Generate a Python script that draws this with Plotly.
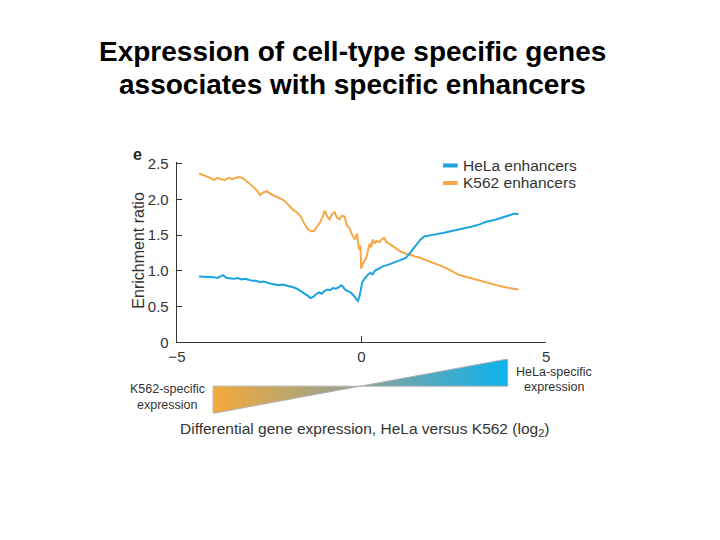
import plotly.graph_objects as go

# ---------------- data ----------------
k562_x = [-4.40, -4.30, -4.20, -4.10, -4.00, -3.90, -3.80, -3.70, -3.60, -3.50,
          -3.40, -3.30, -3.20, -3.10, -3.00, -2.90, -2.80, -2.75, -2.65, -2.55,
          -2.45, -2.35, -2.25, -2.15, -2.05, -1.95, -1.85, -1.75, -1.65, -1.55,
          -1.45, -1.35, -1.28, -1.20, -1.12, -1.05, -1.00, -0.93, -0.87, -0.80,
          -0.73, -0.67, -0.60, -0.53, -0.46, -0.40, -0.33, -0.25, -0.18, -0.12,
          -0.07, -0.03, -0.01, 0.03, 0.08, 0.13, 0.18, 0.22, 0.26, 0.30,
          0.35, 0.40, 0.48, 0.55, 0.62, 0.68, 0.75, 0.83, 0.90, 0.98,
          1.06, 1.15, 1.25, 1.35, 1.45, 1.55, 1.65, 1.75, 1.85, 2.00,
          2.20, 2.40, 2.60, 2.80, 3.00, 3.20, 3.40, 3.60, 3.80, 4.00,
          4.15, 4.25]
k562_y = [2.36, 2.34, 2.33, 2.30, 2.27, 2.30, 2.28, 2.27, 2.30, 2.28,
          2.30, 2.31, 2.29, 2.25, 2.21, 2.16, 2.10, 2.06, 2.10, 2.11,
          2.07, 2.05, 2.02, 2.00, 1.96, 1.90, 1.85, 1.82, 1.76, 1.66,
          1.58, 1.55, 1.56, 1.62, 1.68, 1.76, 1.84, 1.76, 1.72, 1.79,
          1.82, 1.75, 1.72, 1.77, 1.76, 1.64, 1.60, 1.50, 1.44, 1.52,
          1.30, 1.35, 1.03, 1.10, 1.15, 1.18, 1.30, 1.38, 1.33, 1.44,
          1.38, 1.42, 1.40, 1.44, 1.46, 1.40, 1.38, 1.35, 1.32, 1.29,
          1.27, 1.25, 1.23, 1.22, 1.20, 1.19, 1.17, 1.16, 1.14, 1.11,
          1.06, 1.01, 0.95, 0.92, 0.89, 0.86, 0.83, 0.80, 0.78, 0.76,
          0.75, 0.74]

hela_x = [-4.40, -4.30, -4.20, -4.10, -4.00, -3.90, -3.80, -3.75, -3.65, -3.55,
          -3.45, -3.35, -3.25, -3.15, -3.05, -2.95, -2.85, -2.75, -2.65, -2.55,
          -2.45, -2.35, -2.25, -2.15, -2.05, -1.95, -1.85, -1.75, -1.65, -1.55,
          -1.45, -1.38, -1.30, -1.22, -1.15, -1.08, -1.00, -0.92, -0.85, -0.78,
          -0.70, -0.62, -0.55, -0.50, -0.45, -0.38, -0.30, -0.22, -0.15, -0.10,
          -0.06, -0.02, 0.02, 0.07, 0.12, 0.18, 0.24, 0.30, 0.36, 0.44,
          0.52, 0.60, 0.70, 0.80, 0.90, 1.00, 1.10, 1.20, 1.30, 1.40,
          1.50, 1.60, 1.70, 1.85, 2.00, 2.20, 2.40, 2.60, 2.80, 3.00,
          3.20, 3.40, 3.60, 3.80, 4.00, 4.15, 4.25]
hela_y = [0.92, 0.92, 0.91, 0.92, 0.91, 0.90, 0.92, 0.94, 0.90, 0.89,
          0.89, 0.90, 0.88, 0.89, 0.87, 0.86, 0.86, 0.84, 0.85, 0.83,
          0.82, 0.81, 0.80, 0.81, 0.80, 0.78, 0.77, 0.75, 0.72, 0.69,
          0.65, 0.62, 0.64, 0.68, 0.70, 0.68, 0.72, 0.74, 0.73, 0.76,
          0.75, 0.77, 0.80, 0.78, 0.74, 0.72, 0.70, 0.66, 0.62, 0.58,
          0.63, 0.72, 0.84, 0.88, 0.92, 0.95, 0.97, 0.95, 1.00, 1.02,
          1.05, 1.07, 1.08, 1.10, 1.11, 1.13, 1.15, 1.18, 1.24, 1.31,
          1.38, 1.44, 1.48, 1.50, 1.51, 1.53, 1.55, 1.57, 1.60, 1.62,
          1.65, 1.69, 1.71, 1.74, 1.77, 1.80, 1.79]

y_ticks = [0, 0.5, 1.0, 1.5, 2.0, 2.5]
y_ticktext = ["0", "0.5", "1.0", "1.5", "2.0", "2.5"]
x_ticks = [-5, 0, 5]
x_ticktext = ["\u22125", "0", "5"]

# gradient bar (bow-tie) below the axis
bar_x = [-4.02, -4.02, 3.96, 3.96, -4.02]
bar_y = [0.5, 0.0, 1.0, 0.5, 0.5]

BLUE = "#1aa3de"
ORANGE = "#f4a845"
TXT = "#333333"
FONT = "Arial, Liberation Sans, sans-serif"

W, H = 720, 540
def px(v):
    return v / W
def py(v):
    return 1 - v / H

fig = go.Figure()

fig.add_trace(go.Scatter(x=k562_x, y=k562_y, mode="lines",
                         line=dict(color=ORANGE, width=2),
                         name="K562 enhancers", showlegend=False))
fig.add_trace(go.Scatter(x=hela_x, y=hela_y, mode="lines",
                         line=dict(color=BLUE, width=2),
                         name="HeLa enhancers", showlegend=False))

fig.add_trace(go.Scatter(x=bar_x, y=bar_y, xaxis="x2", yaxis="y2",
                         mode="lines", fill="toself",
                         line=dict(color="#b0b0b0", width=1),
                         fillgradient=dict(type="horizontal",
                                           colorscale=[[0, "#f3a93a"],
                                                       [0.5, "#8da39a"],
                                                       [1, "#0db2ec"]]),
                         showlegend=False, hoverinfo="skip"))

fig.update_layout(
    width=W, height=H, autosize=False,
    margin=dict(l=0, r=0, t=0, b=0),
    paper_bgcolor="white", plot_bgcolor="white",
    font=dict(family=FONT, color=TXT, size=15),
    xaxis=dict(domain=[px(171), px(547)], range=[-5, 5],
               tickvals=x_ticks, ticktext=x_ticktext,
               ticks="inside", ticklen=6, tickwidth=1.3, tickcolor=TXT,
               showline=True, linecolor=TXT, linewidth=1.4,
               showgrid=False, zeroline=False, anchor="y",
               tickfont=dict(size=15, color=TXT)),
    yaxis=dict(domain=[py(345), py(159)], range=[0, 2.527],
               tickvals=y_ticks, ticktext=y_ticktext,
               ticks="inside", ticklen=5, tickwidth=1.3, tickcolor=TXT,
               showline=True, linecolor=TXT, linewidth=1.4,
               showgrid=False, zeroline=False, anchor="x",
               ticklabelstandoff=4,
               tickfont=dict(size=15, color=TXT)),
    xaxis2=dict(domain=[px(171), px(547)], range=[-5, 5],
                visible=False, anchor="y2"),
    yaxis2=dict(domain=[py(418), py(362)], range=[0, 1],
                visible=False, anchor="x2"),
)

def note(text, x, y, size, color=TXT, xanchor="center", **kw):
    return dict(text=text, x=px(x), y=py(y), xref="paper", yref="paper",
                showarrow=False, font=dict(size=size, color=color, family=FONT),
                xanchor=xanchor, yanchor="middle", **kw)

ann = [
    note("<b>Expression of cell-type specific genes</b>", 350, 46, 28, color="#000000"),
    note("<b>associates with specific enhancers</b>", 350, 80, 28, color="#000000"),
    note("<b>e</b>", 131, 152, 16, color="#222222"),
    note("Enrichment ratio", 131, 250, 16, textangle=-90),
    note("HeLa enhancers", 460, 163, 15.5, xanchor="left"),
    note("K562 enhancers", 460, 181, 15.5, xanchor="left"),
    note("K562-specific", 161, 393, 12.5),
    note("expression", 161, 409, 12.5),
    note("HeLa-specific", 555, 375, 12.5),
    note("expression", 555, 391, 12.5),
    note("Differential gene expression, HeLa versus K562 (log<sub>2</sub>)", 362, 435, 15.5),
]
fig.update_layout(annotations=ann)

# legend handles
fig.add_shape(type="line", x0=px(442), x1=px(457), y0=py(163), y1=py(163),
              xref="paper", yref="paper", line=dict(color=BLUE, width=4))
fig.add_shape(type="line", x0=px(442), x1=px(457), y0=py(181), y1=py(181),
              xref="paper", yref="paper", line=dict(color=ORANGE, width=4))

fig.write_html("out.html", config={"displayModeBar": False},
               post_script="document.body.style.margin='0px';document.body.style.padding='0px';")
